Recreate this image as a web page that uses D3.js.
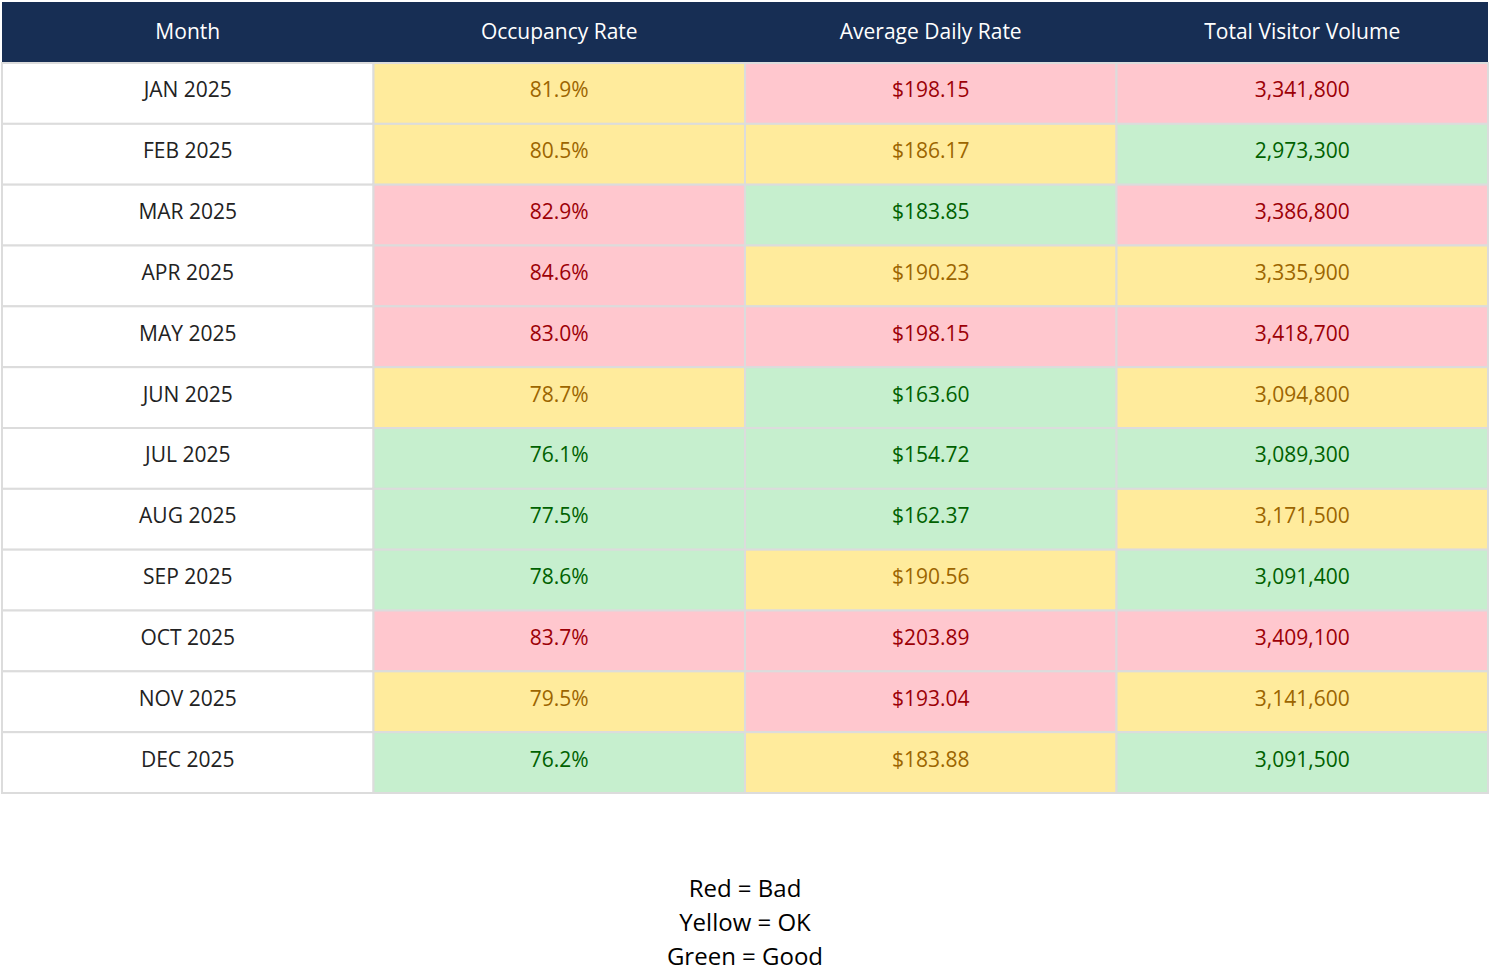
<!DOCTYPE html>
<html><head><meta charset="utf-8">
<script src="https://cdn.jsdelivr.net/npm/d3@7"></script>
<style>body{margin:0;background:#fff;font-family:"Open Sans",sans-serif;}</style>
</head><body><div id="chart"></div>
<script>
const columns = ["Month", "Occupancy Rate", "Average Daily Rate", "Total Visitor Volume"];
const months = ["JAN 2025","FEB 2025","MAR 2025","APR 2025","MAY 2025","JUN 2025","JUL 2025","AUG 2025","SEP 2025","OCT 2025","NOV 2025","DEC 2025"];
const occupancy = [81.9, 80.5, 82.9, 84.6, 83.0, 78.7, 76.1, 77.5, 78.6, 83.7, 79.5, 76.2];
const occupancyStatus = ["ok","ok","bad","bad","bad","ok","good","good","good","bad","ok","good"];
const adr = [198.15, 186.17, 183.85, 190.23, 198.15, 163.60, 154.72, 162.37, 190.56, 203.89, 193.04, 183.88];
const adrStatus = ["bad","ok","good","ok","bad","good","good","good","ok","bad","bad","ok"];
const visitors = [3341800, 2973300, 3386800, 3335900, 3418700, 3094800, 3089300, 3171500, 3091400, 3409100, 3141600, 3091500];
const visitorStatus = ["bad","good","bad","ok","bad","ok","good","ok","good","bad","ok","good"];
const legendLines = ["Red = Bad", "Yellow = OK", "Green = Good"];

const fill = {bad: "#ffc7ce", ok: "#ffeb9c", good: "#c6efce", none: "#ffffff"};
const ink = {bad: "#9c0006", ok: "#9c6500", good: "#006100", none: "#222222"};

const W = 1490, H = 978;
const svg = d3.select("#chart").append("svg").attr("width", W).attr("height", H);

const x = d3.scaleBand().domain(columns).range([2, 1488]);
const y = d3.scaleBand().domain(months).range([63, 793]);

const rows = months.map((m, i) => [
  {text: m, s: "none"},
  {text: occupancy[i].toFixed(1) + "%", s: occupancyStatus[i]},
  {text: "$" + adr[i].toFixed(2), s: adrStatus[i]},
  {text: d3.format(",")(visitors[i]), s: visitorStatus[i]}
]);

// header
svg.append("rect").attr("x", 2).attr("y", 2).attr("width", 1486).attr("height", 60).attr("fill", "#172e54");
svg.selectAll(".hd").data(columns).enter().append("text")
  .attr("x", d => x(d) + x.bandwidth() / 2).attr("y", 31)
  .attr("text-anchor", "middle").attr("dominant-baseline", "central")
  .attr("fill", "#fff").attr("font-size", 21).text(d => d);

const g = svg.selectAll(".row").data(rows).enter().append("g")
  .attr("transform", (d, i) => "translate(0," + y(months[i]) + ")");

g.selectAll("rect").data(d => d).enter().append("rect")
  .attr("x", (d, j) => x(columns[j])).attr("y", 0)
  .attr("width", x.bandwidth()).attr("height", y.bandwidth())
  .attr("fill", d => fill[d.s]).attr("stroke", "#dcdcdc").attr("stroke-width", 2);

g.selectAll("text").data(d => d).enter().append("text")
  .attr("x", (d, j) => x(columns[j]) + x.bandwidth() / 2).attr("y", y.bandwidth() / 2 - 4)
  .attr("text-anchor", "middle").attr("dominant-baseline", "central")
  .attr("fill", d => ink[d.s]).attr("font-size", 21).text(d => d.text);

svg.selectAll(".lg").data(legendLines).enter().append("text")
  .attr("x", 745).attr("y", (d, i) => 887 + i * 34)
  .attr("text-anchor", "middle").attr("dominant-baseline", "central")
  .attr("fill", "#000").attr("font-size", 24).text(d => d);
</script></body></html>
